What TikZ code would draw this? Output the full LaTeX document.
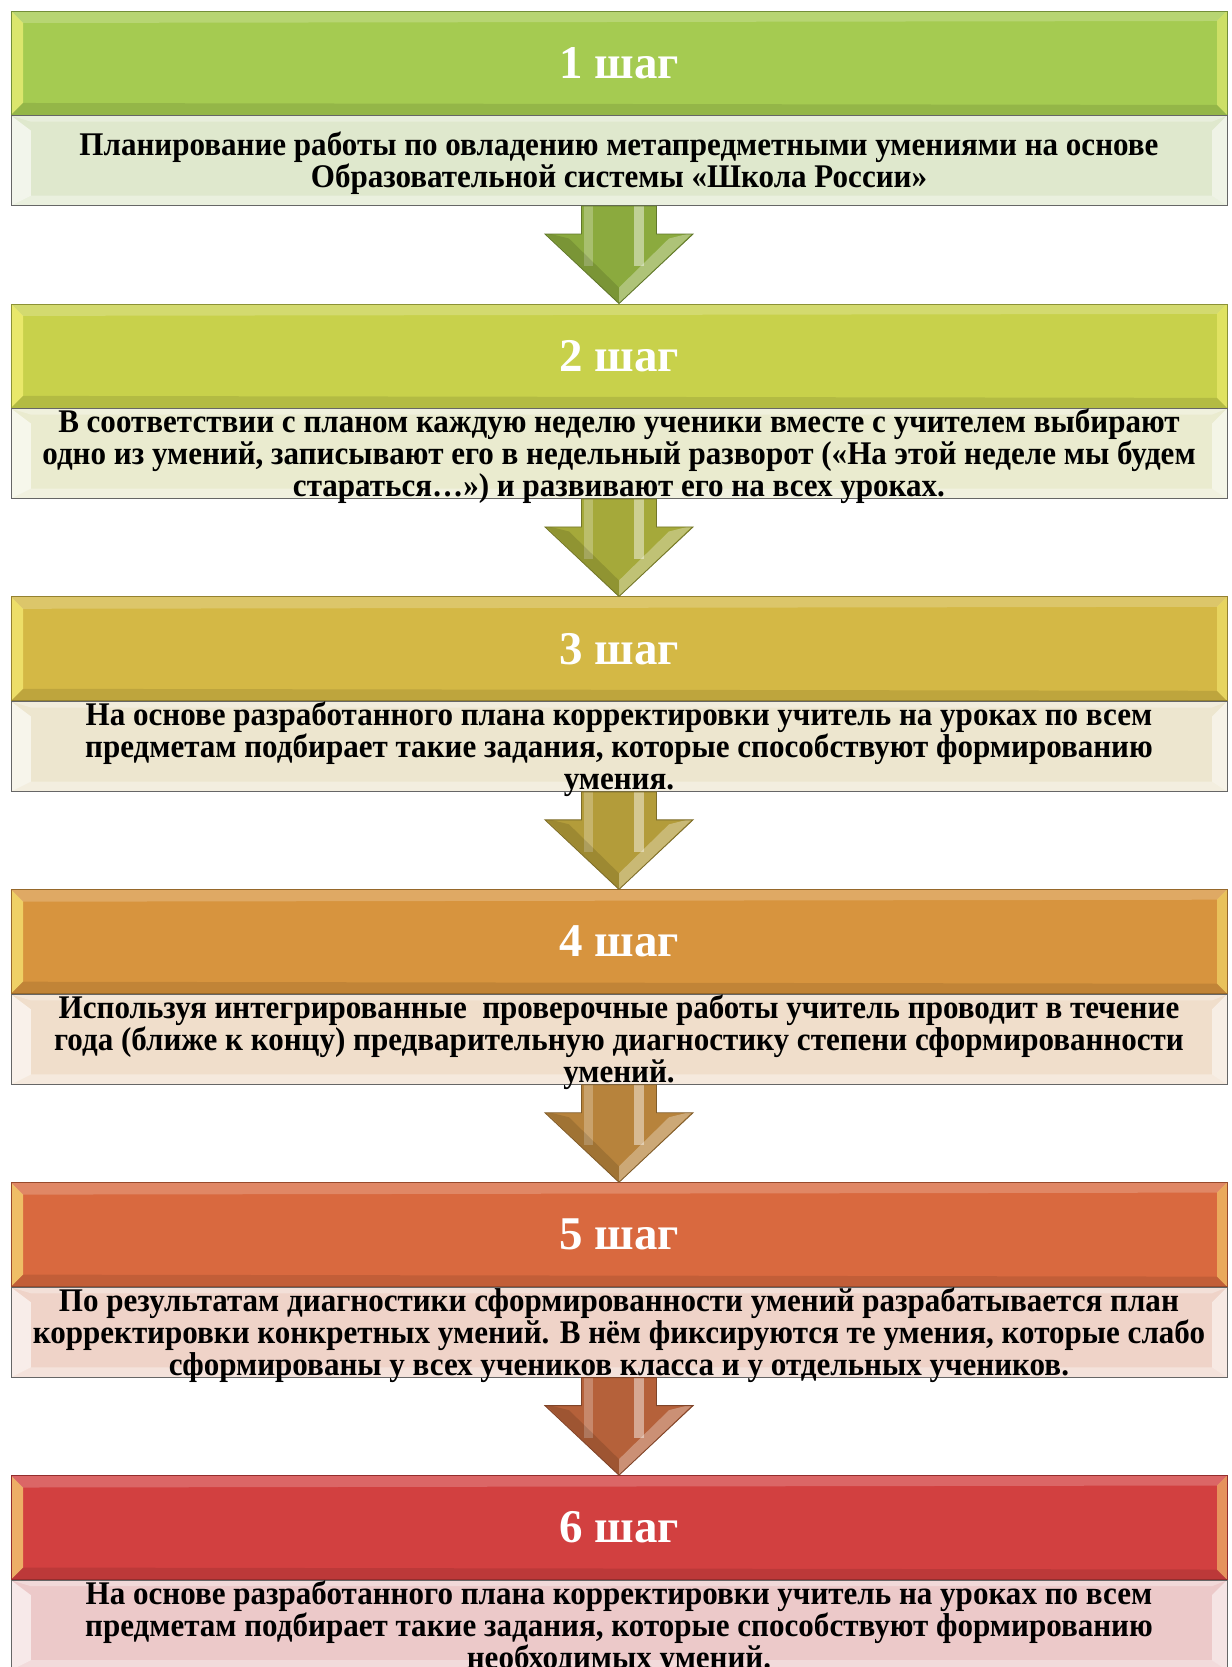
\documentclass[tikz,border=0pt]{standalone}
\usepackage{fontspec}
\setmainfont{Liberation Serif}
\newfontfamily\parafont{Liberation Serif}[FakeStretch=0.94]
\usepackage{xcolor}
\usepackage{tikz}
\usetikzlibrary{positioning,calc}

\definecolor{step1}{HTML}{A5CB51}
\definecolor{step2}{HTML}{C8D14B}
\definecolor{step3}{HTML}{D4B845}
\definecolor{step4}{HTML}{D7943E}
\definecolor{step5}{HTML}{D9693F}
\definecolor{step6}{HTML}{D24040}
\definecolor{pale1}{HTML}{DFE8CD}
\definecolor{pale2}{HTML}{EAEBCF}
\definecolor{pale3}{HTML}{EDE6CF}
\definecolor{pale4}{HTML}{F0DECB}
\definecolor{pale5}{HTML}{EFD3C8}
\definecolor{pale6}{HTML}{ECC9C9}
\definecolor{arr1}{HTML}{8BAA3E}
\definecolor{arr2}{HTML}{A5A93A}
\definecolor{arr3}{HTML}{B39C3A}
\definecolor{arr4}{HTML}{B7833C}
\definecolor{arr5}{HTML}{B5613A}

\begin{document}
\begin{tikzpicture}[
  hdr/.style={draw=#1!70!black, fill=#1, minimum width=24.32cm, minimum height=2.08cm, inner sep=0pt,
    text=white, font=\fontsize{26.7}{30}\selectfont\bfseries,
    path picture={
      \coordinate (nw) at (path picture bounding box.north west); \coordinate (ne) at (path picture bounding box.north east);
      \coordinate (sw) at (path picture bounding box.south west); \coordinate (se) at (path picture bounding box.south east);
      \fill[yellow!50!white, opacity=.6] (nw) -- ($(nw)+(0.24,-0.24)$) -- ($(sw)+(0.24,0.24)$) -- (sw) -- cycle;
      \fill[yellow!50!white, opacity=.45] (ne) -- ($(ne)+(-0.2,-0.2)$) -- ($(se)+(-0.2,0.2)$) -- (se) -- cycle;
      \fill[white, opacity=.2] (nw) -- (ne) -- ($(ne)+(-0.2,-0.2)$) -- ($(nw)+(0.24,-0.24)$) -- cycle;
      \fill[black, opacity=.1] (sw) -- (se) -- ($(se)+(-0.2,0.2)$) -- ($(sw)+(0.24,0.24)$) -- cycle;}},
  txt/.style={draw=black!60, fill=#1, minimum width=24.32cm, minimum height=1.8cm, inner sep=0pt,
    path picture={
      \coordinate (nw) at (path picture bounding box.north west); \coordinate (ne) at (path picture bounding box.north east);
      \coordinate (sw) at (path picture bounding box.south west); \coordinate (se) at (path picture bounding box.south east);
      \fill[white, opacity=.6] (nw) -- ($(nw)+(0.4,-0.3)$) -- ($(sw)+(0.4,0.2)$) -- (sw) -- cycle;
      \fill[white, opacity=.5] (ne) -- ($(ne)+(-0.3,-0.3)$) -- ($(se)+(-0.3,0.2)$) -- (se) -- cycle;
      \fill[white, opacity=.3] (nw) -- (ne) -- ($(ne)+(-0.3,-0.12)$) -- ($(nw)+(0.4,-0.12)$) -- cycle;
      \fill[white, opacity=.35] (sw) -- (se) -- ($(se)+(-0.3,0.2)$) -- ($(sw)+(0.4,0.2)$) -- cycle;}},
  para/.style={align=center, inner sep=0pt, yshift=-0.06cm, font=\parafont\fontsize{18.8}{18.2}\selectfont\bfseries},
  blk/.style={fill=#1, draw=#1!70!black, line width=0.5pt,
    to path={($(\tikztostart)+(-0.75,0)$) -- ($(\tikztostart)+(-0.75,-0.56)$) -- ($(\tikztostart)+(-1.48,-0.56)$)
      -- (\tikztotarget) -- ($(\tikztostart)+(1.48,-0.56)$) -- ($(\tikztostart)+(0.75,-0.56)$)
      -- ($(\tikztostart)+(0.75,0)$) -- cycle},
    path picture={
      \coordinate (tip) at (path picture bounding box.south); \coordinate (top) at (path picture bounding box.north);
      \fill[white, opacity=.25] ($(top)+(-0.7,0)$) rectangle ($(top)+(-0.52,-1.2)$);
      \fill[white, opacity=.45] ($(top)+(0.3,0)$) rectangle ($(top)+(0.5,-1.2)$);
      \fill[white, opacity=.3] (tip) -- ($(tip)+(1.48,1.42)$) -- ($(tip)+(1.0,1.3)$) -- ($(tip)+(0,0.32)$) -- cycle;
      \fill[black, opacity=.12] (tip) -- ($(tip)+(-1.48,1.42)$) -- ($(tip)+(-1.0,1.3)$) -- ($(tip)+(0,0.32)$) -- cycle;}}]
\useasboundingbox (0,0) rectangle (24.62,33.34);
\clip (0,0) rectangle (24.62,33.34);

\node[hdr=step1] (h1) at (12.38,32.08) {1 шаг};
\node[txt=pale1, below=0pt of h1] (t1) {};
\node[para] (p1) at (t1) {Планирование работы по овладению метапредметными умениями на основе\\
  Образовательной системы «Школа России»};

\node[hdr=step2, below=1.95cm of t1] (h2) {2 шаг};
\node[txt=pale2, below=0pt of h2] (t2) {};
\node[para] (p2) at (t2) {В соответствии с планом каждую неделю ученики вместе с учителем выбирают\\
  одно из умений, записывают его в недельный разворот («На этой неделе мы будем\\
  стараться…») и развивают его на всех уроках.};

\node[hdr=step3, below=1.95cm of t2] (h3) {3 шаг};
\node[txt=pale3, below=0pt of h3] (t3) {};
\node[para] (p3) at (t3) {На основе разработанного плана корректировки учитель на уроках по всем\\
  предметам подбирает такие задания, которые способствуют формированию\\
  умения.};

\node[hdr=step4, below=1.95cm of t3] (h4) {4 шаг};
\node[txt=pale4, below=0pt of h4] (t4) {};
\node[para] (p4) at (t4) {Используя интегрированные~ проверочные работы учитель проводит в течение\\
  года (ближе к концу) предварительную диагностику степени сформированности\\
  умений.};

\node[hdr=step5, below=1.95cm of t4] (h5) {5 шаг};
\node[txt=pale5, below=0pt of h5] (t5) {};
\node[para] (p5) at (t5) {По результатам диагностики сформированности умений разрабатывается план\\
  корректировки конкретных умений. В нём фиксируются те умения, которые слабо\\
  сформированы у всех учеников класса и у отдельных учеников.};

\node[hdr=step6, below=1.95cm of t5] (h6) {6 шаг};
\node[txt=pale6, below=0pt of h6] (t6) {};
\node[para] (p6) at (t6) {На основе разработанного плана корректировки учитель на уроках по всем\\
  предметам подбирает такие задания, которые способствуют формированию\\
  необходимых умений.};

\path[blk=arr1] (t1.south) to (h2.north);
\path[blk=arr2] (t2.south) to (h3.north);
\path[blk=arr3] (t3.south) to (h4.north);
\path[blk=arr4] (t4.south) to (h5.north);
\path[blk=arr5] (t5.south) to (h6.north);
\end{tikzpicture}
\end{document}
